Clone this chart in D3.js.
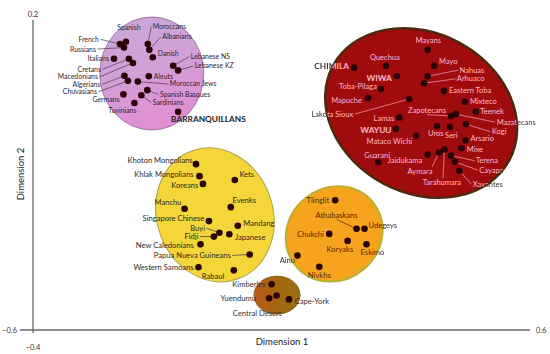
<!DOCTYPE html>
<html>
<head>
<meta charset="utf-8">
<script src="https://cdn.jsdelivr.net/npm/d3@7"></script>
<style>
  body { margin: 0; background: #fff; }
  text { font-family: Lato, "Open Sans", sans-serif; }
</style>
</head>
<body>
<div id="chart"></div>
<script>
/**
 * CONSTANTS AND DATA
 * */
const width = 550, height = 354;

// MDS coordinates (Dimension 1, Dimension 2), one set per cluster
const europeNames = ["Spanish", "French", "Russians", "Moroccans", "Albanians", "Danish", "Italians", "Cretans",
  "Macedonians", "Algerians", "Chuvasians", "Moroccan Jews", "Aleuts", "Lebanese NS", "Lebanese KZ",
  "Spanish Basques", "Sardinians", "Germans", "Tuvinians", "BARRANQUILLANS"];
const europeDim1 = [-0.213, -0.225, -0.217, -0.169, -0.166, -0.159, -0.237, -0.207, -0.199, -0.216, -0.209,
  -0.189, -0.167, -0.118, -0.108, -0.170, -0.182, -0.218, -0.196, -0.108];
const europeDim2 = [0.144, 0.138, 0.129, 0.138, 0.123, 0.104, 0.100, 0.100, 0.089, 0.056, 0.043, 0.041, 0.055,
  0.082, 0.070, 0.019, 0.006, 0.008, -0.014, -0.037];

const americaNames = ["Mayans", "Quechua", "CHIMILA", "Mayo", "Nahuas", "WIWA", "Arhuaco", "Toba-Pilaga",
  "Eastern Toba", "Mapuche", "Lakota Sioux", "Mixteco", "Zapotecans", "Teenek", "Mazatecans", "Lamas", "Uros",
  "Seri", "Kogi", "WAYUU", "Mataco Wichi", "Arsario", "Mixe", "Jaidukama", "Guarani", "Aymara", "Tarahumara",
  "Terena", "Cayapa", "Xavantes"];
const americaDim1 = [0.394, 0.310, 0.246, 0.407, 0.394, 0.332, 0.387, 0.300, 0.427, 0.274, 0.357, 0.469, 0.441,
  0.491, 0.451, 0.337, 0.413, 0.439, 0.471, 0.330, 0.371, 0.470, 0.462, 0.394, 0.295, 0.417, 0.428, 0.441,
  0.449, 0.458];
const americaDim2 = [0.123, 0.082, 0.077, 0.082, 0.055, 0.055, 0.037, 0.022, 0.017, -0.001, -0.004, -0.011,
  -0.048, -0.037, -0.043, -0.052, -0.074, -0.076, -0.069, -0.081, -0.099, -0.111, -0.131, -0.147, -0.167,
  -0.142, -0.134, -0.150, -0.166, -0.189];

const asiaNames = ["Khoton Mongolians", "Khlak Mongolians", "Koreans", "Kets", "Evenks", "Manchu",
  "Singapore Chinese", "Mandang", "Buyi", "Fidji", "Japanese", "New Caledonians", "Papua Nueva Guineans",
  "Western Samoans", "Rabaul"];
const asiaDim1 = [-0.072, -0.065, -0.058, 0.006, -0.002, -0.095, -0.046, 0.012, -0.025, -0.036, -0.005, -0.063,
  0.036, -0.067, 0.004];
const asiaDim2 = [-0.172, -0.203, -0.223, -0.213, -0.283, -0.287, -0.319, -0.331, -0.349, -0.359, -0.353,
  -0.379, -0.405, -0.438, -0.446];

const arcticNames = ["Tlinglit", "Athabaskans", "Udegeys", "Chukchi", "Koryaks", "Eskimo", "Ainu", "Nivkhs"];
const arcticDim1 = [0.208, 0.251, 0.267, 0.196, 0.233, 0.271, 0.132, 0.176];
const arcticDim2 = [-0.265, -0.339, -0.339, -0.352, -0.370, -0.379, -0.408, -0.437];

const australiaNames = ["Kimberley", "Yuendumu", "Central Desert", "Cape-York"];
const australiaDim1 = [0.080, 0.075, 0.090, 0.115];
const australiaDim2 = [-0.482, -0.518, -0.511, -0.521];

const xDomain = [-0.4, 0.6];
const yDomain = [-0.6, 0.2];
const xTitle = "Dimension 1";
const yTitle = "Dimension 2";

/**
 * LAYOUT (label offsets from the dot, in px: dx, dy, anchor, leader line)
 * */
const labelLayout = {
  "Spanish": [3, -14.5, "m"], "French": [-21, -4.7, "e", true], "Russians": [-28, 1.6, "e", true],
  "Moroccans": [5, -17, "s", true], "Albanians": [13, -13, "s", true], "Danish": [5, -4, "s"],
  "Italians": [-5, 0, "e"], "Cretans": [-28, 10.6, "e", true], "Macedonians": [-35, 13.9, "e", true],
  "Algerians": [-24, 8.6, "e", true], "Chuvasians": [-31, 10.9, "e", true], "Moroccan Jews": [32, 2.4, "s", true],
  "Aleuts": [5, 0, "s"], "Lebanese NS": [17.7, -9, "s", true], "Lebanese KZ": [16.7, -4.3, "s", true],
  "Spanish Basques": [12.7, 4.3, "s", true], "Sardinians": [11.4, 7.2, "s", true], "Germans": [-4, 5, "e"],
  "Tuvinians": [-12, 7.3, "m"], "BARRANQUILLANS": [-7, 7.6, "s"],

  "Mayans": [0.6, -9, "m"], "Quechua": [-1, -8, "m"], "CHIMILA": [-5, -2, "e"], "Mayo": [5, -4, "s"],
  "Nahuas": [32, -6, "s", true], "WIWA": [-5, 1.7, "e"], "Arhuaco": [32.7, -4.3, "s", true],
  "Toba-Pilaga": [-4, -2.3, "e"], "Eastern Toba": [5, -1, "s"], "Mapuche": [-6, 2.3, "e"],
  "Lakota Sioux": [-56, 15, "e", true], "Mixteco": [5, 0, "s"], "Zapotecans": [-5, -6, "e", [-24, -1.5]],
  "Teenek": [4.5, 0, "s"], "Mazatecans": [40.7, 8.0, "s", true], "Lamas": [-5, 0.6, "e"],
  "Uros": [-1.3, 7.3, "m"], "Seri": [1.4, 8, "m"], "Kogi": [26, 7.4, "s", true], "WAYUU": [-4.3, 1.3, "e"],
  "Mataco Wichi": [-4, 6, "e"], "Arsario": [5, -2.4, "s"], "Mixe": [5.4, 1, "s"], "Jaidukama": [-5.4, 5.7, "e"],
  "Guarani": [-1.3, -7.3, "m"], "Aymara": [-19, 19, "m", [-7, 14.3]], "Tarahumara": [-2.6, 33.4, "m", [-1.6, 29]],
  "Terena": [25, 5, "s", true], "Cayapa": [24.3, 8.3, "s", true], "Xavantes": [13.4, 13.6, "s", true],

  "Khoton Mongolians": [-3.3, -4, "e"], "Khlak Mongolians": [-6, -1.7, "e"], "Koreans": [-4.7, 1.7, "e"],
  "Kets": [4.6, -6, "s"], "Evenks": [1.7, -6.6, "s"], "Manchu": [-3, -6.4, "e"],
  "Singapore Chinese": [-4.7, -2.7, "e"], "Mandang": [5.6, -2.4, "s"], "Buyi": [-14.3, -4.4, "e", true],
  "Fidji": [-15.4, 0, "e", true], "Japanese": [5.7, 3, "s"], "New Caledonians": [-6.7, 1.4, "e"],
  "Papua Nueva Guineans": [-19, 1, "e", true], "Western Samoans": [-5, 0, "e"], "Rabaul": [-20.7, 6, "m"],

  "Tlinglit": [-6, 0, "e"], "Athabaskans": [-20, -14, "m", true], "Udegeys": [4, -3.3, "s"],
  "Chukchi": [-5.3, 0, "e"], "Koryaks": [-7.7, 8.6, "m"], "Eskimo": [6, 8, "m"], "Ainu": [-2.3, 4.3, "e"],
  "Nivkhs": [0, 8.7, "m"],

  "Kimberley": [-5.5, 0, "e"], "Yuendumu": [-13, 0, "e", true], "Central Desert": [-19.4, 17.6, "m", [-6, 13]],
  "Cape-York": [5.8, 1.5, "s"]
};

// cluster hulls: centre in data units, radii in px, rotation in degrees
const clusters = [
  { key: "europe", names: europeNames, d1: europeDim1, d2: europeDim2, centre: [-0.161, 0.062],
    rx: 52, ry: 56.5, rot: 0, fill: "url(#gEurope)", stroke: "#9e76ad", sw: 1,
    ink: "#2f2430", inkIn: null, line: "#4a3a4a", fs: 6.9 },
  { key: "america", names: americaNames, d1: americaDim1, d2: americaDim2, centre: [0.381, -0.040],
    rx: 100, ry: 80, rot: 28, fill: "#a00c0d", stroke: "#4b2a0c", sw: 2.5,
    ink: "#333", inkIn: "#ffb8cb", line: "#f4a0b8", fs: 7.5 },
  { key: "asia", names: asiaNames, d1: asiaDim1, d2: asiaDim2, centre: [-0.034, -0.303],
    rx: 58, ry: 68, rot: -20, fill: "#f4d53a", stroke: "#aaa24a", sw: 1,
    ink: "#2e2a20", inkIn: null, line: "#333", fs: 7.6 },
  { key: "arctic", names: arcticNames, d1: arcticDim1, d2: arcticDim2, centre: [0.206, -0.352],
    rx: 50, ry: 46, rot: -40, fill: "#f6a41e", stroke: "#b8b132", sw: 2,
    ink: "#333", inkIn: "#5a2600", line: "#4a2000", fs: 7.6 },
  { key: "australia", names: australiaNames, d1: australiaDim1, d2: australiaDim2, centre: [0.091, -0.510],
    rx: 23, ry: 19, rot: 0, fill: "url(#gAustralia)", stroke: "#8f5e28", sw: 1,
    ink: "#333", inkIn: null, line: "#c04a20", fs: 7.6 }
];

/**
 * SCALES AND SVG
 * */
const x = d3.scaleLinear().domain(xDomain).range([33, 530]);
const y = d3.scaleLinear().domain(yDomain).range([330, 20]);

const svg = d3.select("#chart")
  .append("svg")
  .attr("width", width)
  .attr("height", height);

const defs = svg.append("defs");

const gE = defs.append("linearGradient").attr("id", "gEurope")
  .attr("x1", 0).attr("y1", 0).attr("x2", 0.3).attr("y2", 1);
gE.append("stop").attr("offset", "0%").attr("stop-color", "#c9a9d8");
gE.append("stop").attr("offset", "55%").attr("stop-color", "#d29fd6");
gE.append("stop").attr("offset", "100%").attr("stop-color", "#e08fd3");

const gA = defs.append("linearGradient").attr("id", "gAustralia")
  .attr("x1", 0).attr("y1", 0.5).attr("x2", 1).attr("y2", 0.5);
gA.append("stop").attr("offset", "0%").attr("stop-color", "#b85a18");
gA.append("stop").attr("offset", "60%").attr("stop-color", "#a3680f");
gA.append("stop").attr("offset", "100%").attr("stop-color", "#9a6e12");

const hullTransform = c => `translate(${x(c.centre[0])},${y(c.centre[1])}) rotate(${c.rot})`;

// hulls, plus an inside clip and an outside mask for two-tone labels
clusters.forEach(c => {
  svg.append("ellipse")
    .attr("rx", c.rx).attr("ry", c.ry)
    .attr("transform", hullTransform(c))
    .attr("fill", c.fill)
    .attr("stroke", c.stroke)
    .attr("stroke-width", c.sw);

  if (c.inkIn) {
    defs.append("clipPath").attr("id", "clip-" + c.key)
      .append("ellipse")
      .attr("rx", c.rx).attr("ry", c.ry)
      .attr("transform", hullTransform(c));
    const m = defs.append("mask").attr("id", "out-" + c.key)
      .attr("maskUnits", "userSpaceOnUse")
      .attr("x", 0).attr("y", 0).attr("width", width).attr("height", height);
    m.append("rect").attr("width", width).attr("height", height).attr("fill", "white");
    m.append("ellipse")
      .attr("rx", c.rx).attr("ry", c.ry)
      .attr("transform", hullTransform(c))
      .attr("fill", "black");
  }
});

/**
 * AXES
 * */
const axisColor = "#6a6a6a";
svg.append("line")
  .attr("x1", x(xDomain[0])).attr("x2", x(xDomain[0]))
  .attr("y1", y(yDomain[1])).attr("y2", y(yDomain[0]) + 3)
  .attr("stroke", axisColor).attr("stroke-width", 1.3);
svg.append("line")
  .attr("x1", x(xDomain[0]) - 13).attr("x2", x(xDomain[1]))
  .attr("y1", y(yDomain[0])).attr("y2", y(yDomain[0]))
  .attr("stroke", axisColor).attr("stroke-width", 1.3);

const tick = (tx, ty, t, anchor) => svg.append("text")
  .attr("x", tx).attr("y", ty).attr("dy", "0.35em")
  .attr("text-anchor", anchor)
  .attr("font-size", 7.5).attr("fill", "#333")
  .text(t);

tick(x(xDomain[0]), y(yDomain[1]) - 6, d3.format(".1f")(yDomain[1]), "middle");
tick(x(xDomain[0]) - 16, y(yDomain[0]), d3.format(".1f")(yDomain[0]), "end");
tick(x(xDomain[0]), y(yDomain[0]) + 17, d3.format(".1f")(xDomain[0]), "middle");
tick(x(xDomain[1]) + 6, y(yDomain[0]), d3.format(".1f")(xDomain[1]), "start");

svg.append("text")
  .attr("x", 282).attr("y", 342).attr("dy", "0.35em")
  .attr("text-anchor", "middle").attr("font-size", 9.5).attr("fill", "#222")
  .text(xTitle);
svg.append("text")
  .attr("transform", "translate(21,174) rotate(-90)")
  .attr("dy", "0.35em")
  .attr("text-anchor", "middle").attr("font-size", 9.5).attr("fill", "#222")
  .text(yTitle);

/**
 * POINTS AND LABELS
 * */
const anchors = { s: "start", e: "end", m: "middle" };

clusters.forEach(c => {
  const pts = c.names.map((n, i) => {
    const [dx, dy, a, lead] = labelLayout[n];
    const px = x(c.d1[i]), py = y(c.d2[i]);
    const lx = px + dx, ly = py + dy;
    let end = null;
    if (Array.isArray(lead)) end = [px + lead[0], py + lead[1]];
    else if (lead) end = a === "s" ? [lx - 1.5, ly] : a === "e" ? [lx + 1.5, ly] : [lx, ly + (dy > 0 ? -4.5 : 4.5)];
    return { name: n, px, py, lx, ly, anchor: anchors[a], end, bold: n === n.toUpperCase() };
  });

  const g = svg.append("g").attr("class", "cluster-" + c.key);

  g.selectAll("line.lead")
    .data(pts.filter(d => d.end))
    .join("line")
    .attr("class", "lead")
    .attr("x1", d => d.px).attr("y1", d => d.py)
    .attr("x2", d => d.end[0]).attr("y2", d => d.end[1])
    .attr("stroke", c.line).attr("stroke-width", 0.7);

  g.selectAll("circle")
    .data(pts)
    .join("circle")
    .attr("cx", d => d.px).attr("cy", d => d.py)
    .attr("r", 3.3)
    .attr("fill", "#2a0307");

  const drawLabels = (parent, color) => parent.selectAll("text")
    .data(pts)
    .join("text")
    .attr("x", d => d.lx).attr("y", d => d.ly).attr("dy", "0.35em")
    .attr("text-anchor", d => d.anchor)
    .attr("font-size", d => d.bold ? 8.3 : c.fs)
    .attr("font-weight", d => d.bold ? "bold" : null)
    .attr("fill", d => d.bold && c.key !== "america" ? "#1a1a1a" : color)
    .text(d => d.name);

  if (c.inkIn) {
    drawLabels(g.append("g").attr("mask", `url(#out-${c.key})`), c.ink);
    drawLabels(g.append("g").attr("clip-path", `url(#clip-${c.key})`), c.inkIn);
  } else {
    drawLabels(g.append("g"), c.ink);
  }
});
</script>
</body>
</html>
